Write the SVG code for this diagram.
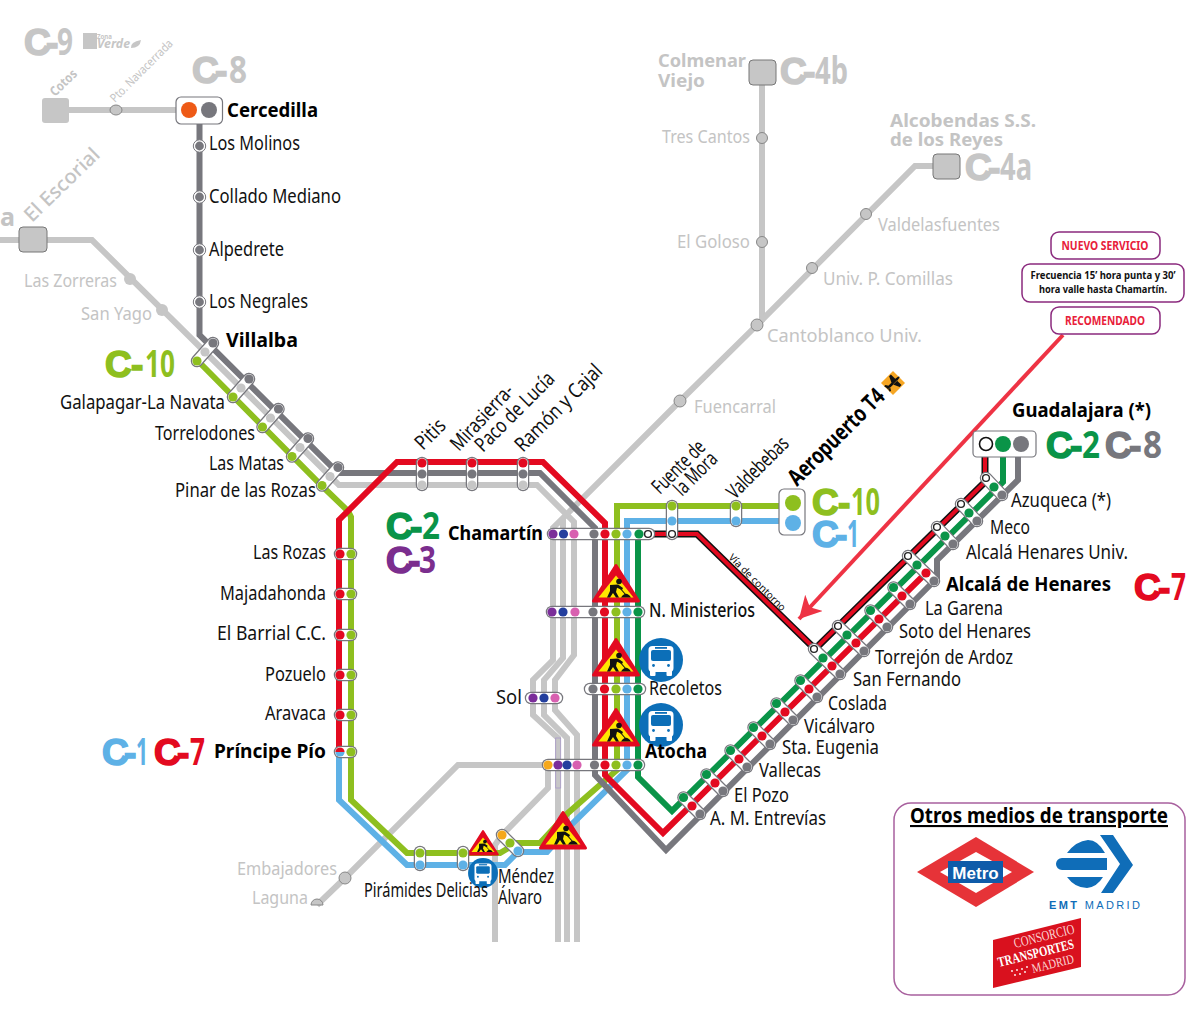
<svg xmlns="http://www.w3.org/2000/svg" width="1200" height="1017" viewBox="0 0 1200 1017">
<style>
text{font-family:"Noto Sans","DejaVu Sans",sans-serif}
.t{font-size:19px;fill:#111}
.r{font-size:20.5px;fill:#111}
.b{font-weight:700;font-size:19.5px;fill:#000}
.f{font-size:18.5px;fill:#c4c4c4}
.fb{font-size:18.5px;font-weight:700;fill:#c4c4c4}
.l{fill:none;stroke-width:6;stroke-linejoin:miter}
.lg{stroke:#c6c6c6}.dg{stroke:#77777d}.rd{stroke:#e30a20}.gr{stroke:#8ebf1f}.bl{stroke:#5eb1e6}.dk{stroke:#0a9448}
.co{stroke:#77777d;stroke-width:12.5;stroke-linecap:round}
.ci{stroke:#fff;stroke-width:10;stroke-linecap:round}
.c-lg{fill:#c6c6c6}.c-dg{fill:#77777d}.c-rd{fill:#e30a20}.c-gr{fill:#8ebf1f}.c-bl{fill:#5eb1e6}.c-dk{fill:#0a9448}.c-pu{fill:#7b2e9a}.c-nv{fill:#243f9e}.c-pk{fill:#d860b0}.c-or{fill:#f5a81c}
.c-wh{fill:#fff;stroke:#222;stroke-width:1.4}
.n{fill:#c6c6c6;stroke:#888;stroke-width:1}
.bx{fill:#fff;stroke:#77777d;stroke-width:1.2}
.badge{font-size:37px}
.cc{font-family:"Liberation Sans",sans-serif;font-weight:700;stroke-width:1.6}
.dd{font-family:"Liberation Sans",sans-serif;font-weight:700;stroke-width:1.6}
.nn{font-size:38px;font-weight:700}
.call{fill:#fff;stroke:#8b2a7e;stroke-width:1.5}
.cr{font-size:11.5px;font-weight:700;fill:#e8203a;text-anchor:middle}
.ck{font-size:10.5px;font-weight:700;fill:#111;text-anchor:middle}
</style>
<defs>
<marker id="arrow" markerUnits="userSpaceOnUse" markerWidth="26" markerHeight="26" refX="22" refY="12" orient="auto">
<path d="M22,12 L0,0 L6,12 L0,24 Z" fill="#ee3344"/>
</marker>
<g id="d3"><line class="co" x1="-8.5" y1="-8.5" x2="8" y2="8"/><line class="ci" x1="-8.5" y1="-8.5" x2="8" y2="8"/><circle class="c-dk" cx="-8.5" cy="-8.5" r="4.6"/><circle class="c-rd" r="4.6"/><circle class="c-dg" cx="8" cy="8" r="4.6"/></g>
<g id="d4"><line class="co" x1="-18" y1="-17" x2="8" y2="8"/><line class="ci" x1="-18" y1="-17" x2="8" y2="8"/><circle class="c-wh" cx="-18" cy="-17" r="3.4"/><circle class="c-dk" cx="-9" cy="-8" r="4.6"/><circle class="c-rd" r="4.6"/><circle class="c-dg" cx="8" cy="8" r="4.6"/></g>
<g id="d3w"><line class="co" x1="-8" y1="-9" x2="8" y2="8"/><line class="ci" x1="-8" y1="-9" x2="8" y2="8"/><circle class="c-wh" cx="-8" cy="-9" r="3.4"/><circle class="c-dk" r="4.6"/><circle class="c-dg" cx="8" cy="8" r="4.6"/></g>
<g id="d3g"><line class="co" x1="8" y1="-9" x2="-8" y2="9"/><line class="ci" x1="8" y1="-9" x2="-8" y2="9"/><circle class="c-dg" cx="8" cy="-9" r="4.6"/><circle class="c-lg" r="4.6"/><circle class="c-gr" cx="-8" cy="9" r="4.6"/></g>
<g id="v3"><line class="co" x1="0" y1="-11" x2="0" y2="11"/><line class="ci" x1="0" y1="-11" x2="0" y2="11"/><circle class="c-rd" cy="-11" r="4.6"/><circle class="c-dg" r="4.6"/><circle class="c-lg" cy="11" r="4.6"/></g>
<g id="hs"><line class="co" x1="0" y1="0" x2="11" y2="0"/><line class="ci" x1="0" y1="0" x2="11" y2="0"/><circle class="c-rd" r="4.6"/><circle class="c-gr" cx="11" r="4.6"/></g>
<g id="vc"><circle r="6.2" fill="#fff" stroke="#77777d" stroke-width="1"/><circle r="4.4" class="c-dg"/></g>
<g id="sign">
<polygon points="0,1.500 22.500,37 -22.500,37" fill="#e30a20" stroke="#e30a20" stroke-width="3" stroke-linejoin="round"/>
<polygon points="0,11.500 17.500,33.500 -17.500,33.500" fill="#ffe600"/>
<circle cx="3" cy="17.500" r="2.800" fill="#111"/>
<path d="M-6,21 L2,20.500 L7,24 L6,26 L1,23.800 L0,28 L3,33.500 L0,33.500 L-3,29 L-6,33.500 L-9,33.500 L-6,27Z" fill="#111"/>
<path d="M3,23 L10,31" stroke="#111" stroke-width="1.100"/>
<path d="M5,33.500 Q10,26 15,33.500Z" fill="#111"/>
</g>
<g id="bus">
<circle r="22" fill="#0c6fb8"/>
<rect x="-12.500" y="-14" width="25" height="26" rx="4" fill="#fff"/>
<rect x="-11" y="10" width="5.500" height="6" rx="1" fill="#fff"/><rect x="5.500" y="10" width="5.500" height="6" rx="1" fill="#fff"/>
<rect x="-10" y="-10" width="20" height="11" rx="2" fill="#0c6fb8"/>
<rect x="-6" y="-13" width="12" height="1.800" fill="#0c6fb8"/>
<circle cx="-7.500" cy="5.500" r="1.400" fill="#0c6fb8"/><circle cx="7.500" cy="5.500" r="1.400" fill="#0c6fb8"/>
</g>
</defs>
<rect width="1200" height="1017" fill="#fff"/>

<g id="connectors">
<path class="l lg" d="M69,110H176"/>
<path class="l lg" d="M0,240H92L205,352L330,476L339,485H537L574,522V655L555,680V710L577,735V942"/>
<path class="l lg" d="M762,85V320L757,325L680,401L563,518L553,528V660L533,680V715L558,738V942"/>
<path class="l lg" d="M563,518V658L544,680V715L567,738V942"/>
<path class="l lg" d="M933,166H915L757,325"/>
<path class="l lg" d="M317,905L345,878L458,765H548V788L502,835L495,845V942"/>
<rect x="555.700" y="738" width="5" height="50" fill="none" stroke="#a99ac9" stroke-width="0.800"/>
<path class="l gr" d="M197,360L321,485L348,511L351,517V800L407,853H500L517,843H540L568,813L617,770V506H780"/>
<path class="l bl" d="M339,752V800L407,865H505L518,852H547L573,823L627,770V521H780"/>
<path class="l dg" d="M199.500,124V335L338,473H540L595,528V775L666,850L937,578V560L1018,480V457"/>
<path class="l rd" d="M339,752V520L397,462H543L605,523V775L663,833L926,573"/>
<path class="l dk" d="M638,534V777L672,811L1003,482V457"/>
<path fill="none" stroke="#111" stroke-width="7" d="M648,534H697L815,649L985,482V457"/>
<path fill="none" stroke="#e30a20" stroke-width="4" d="M648,534H697L815,649L985,482V457"/>
<line x1="1063" y1="335" x2="799" y2="619" stroke="#ee3344" stroke-width="4" marker-end="url(#arrow)"/>
<path d="M311,905a6,6 0 0 1 12,0z" class="n"/>
</g>

<g id="line-labels">
<text class="badge" y="55" fill="#c6c6c6" stroke="#c6c6c6" stroke-width="0"><tspan class="cc" x="24">C</tspan><tspan class="dd" x="46">-</tspan><tspan class="nn" x="57" textLength="16" lengthAdjust="spacingAndGlyphs">9</tspan></text>
<text class="badge" y="83" fill="#c6c6c6" stroke="#c6c6c6" stroke-width="0"><tspan class="cc" x="192">C</tspan><tspan class="dd" x="215">-</tspan><tspan class="nn" x="229" textLength="18" lengthAdjust="spacingAndGlyphs">8</tspan></text>
<text class="badge" y="84" fill="#c6c6c6" stroke="#c6c6c6" stroke-width="0"><tspan class="cc" x="780">C</tspan><tspan class="dd" x="803">-</tspan><tspan class="nn" x="815" textLength="33" lengthAdjust="spacingAndGlyphs">4b</tspan></text>
<text class="badge" y="180" fill="#c6c6c6" stroke="#c6c6c6" stroke-width="0"><tspan class="cc" x="965">C</tspan><tspan class="dd" x="988">-</tspan><tspan class="nn" x="1000" textLength="32" lengthAdjust="spacingAndGlyphs">4a</tspan></text>
<text class="badge" y="377" fill="#8ebf1f" stroke="#8ebf1f" stroke-width="0"><tspan class="cc" x="105">C</tspan><tspan class="dd" x="131">-</tspan><tspan class="nn" x="145" textLength="30" lengthAdjust="spacingAndGlyphs">10</tspan></text>
<text class="badge" y="539" fill="#0a9448" stroke="#0a9448" stroke-width="0"><tspan class="cc" x="386">C</tspan><tspan class="dd" x="410">-</tspan><tspan class="nn" x="422" textLength="18" lengthAdjust="spacingAndGlyphs">2</tspan></text>
<text class="badge" y="573" fill="#7b2e8e" stroke="#7b2e8e" stroke-width="0"><tspan class="cc" x="386">C</tspan><tspan class="dd" x="408">-</tspan><tspan class="nn" x="419" textLength="17" lengthAdjust="spacingAndGlyphs">3</tspan></text>
<text class="badge" y="515" fill="#8ebf1f" stroke="#8ebf1f" stroke-width="0"><tspan class="cc" x="812">C</tspan><tspan class="dd" x="838">-</tspan><tspan class="nn" x="851" textLength="29" lengthAdjust="spacingAndGlyphs">10</tspan></text>
<text class="badge" y="547" fill="#5eb1e6" stroke="#5eb1e6" stroke-width="0"><tspan class="cc" x="812">C</tspan><tspan class="dd" x="835">-</tspan><tspan class="nn" x="847" textLength="12" lengthAdjust="spacingAndGlyphs">1</tspan></text>
<text class="badge" y="765" fill="#5eb1e6" stroke="#5eb1e6" stroke-width="0"><tspan class="cc" x="102">C</tspan><tspan class="dd" x="124">-</tspan><tspan class="nn" x="136" textLength="12" lengthAdjust="spacingAndGlyphs">1</tspan></text>
<text class="badge" y="765" fill="#e30a20" stroke="#e30a20" stroke-width="0"><tspan class="cc" x="154">C</tspan><tspan class="dd" x="177">-</tspan><tspan class="nn" x="190" textLength="15" lengthAdjust="spacingAndGlyphs">7</tspan></text>
<text class="badge" y="600" fill="#e30a20" stroke="#e30a20" stroke-width="0"><tspan class="cc" x="1134">C</tspan><tspan class="dd" x="1158">-</tspan><tspan class="nn" x="1171" textLength="15" lengthAdjust="spacingAndGlyphs">7</tspan></text>
<text class="badge" y="458" fill="#0a9448" stroke="#0a9448" stroke-width="0"><tspan class="cc" x="1046">C</tspan><tspan class="dd" x="1070">-</tspan><tspan class="nn" x="1082" textLength="18" lengthAdjust="spacingAndGlyphs">2</tspan></text>
<text class="badge" y="458" fill="#77777d" stroke="#77777d" stroke-width="0"><tspan class="cc" x="1105">C</tspan><tspan class="dd" x="1129">-</tspan><tspan class="nn" x="1143" textLength="19" lengthAdjust="spacingAndGlyphs">8</tspan></text>
</g>

<g id="zona-verde">
<rect x="83" y="33" width="14" height="16" fill="#c6c6c6"/>
<text x="97" y="39" font-size="7" font-weight="700" fill="#c6c6c6" textLength="15" lengthAdjust="spacingAndGlyphs">Zona</text>
<text x="97" y="48" font-size="13" font-weight="700" font-style="italic" fill="#c6c6c6" textLength="33" lengthAdjust="spacingAndGlyphs">Verde</text>
<path d="M131,48Q130,42 141,40Q140,48 131,48Z" fill="#c6c6c6"/>
</g>

<g id="st-cotos"><rect x="42" y="98" width="27" height="25" rx="3" fill="#c6c6c6"/><text class="fb" style="font-size:13px" transform="translate(55,97) rotate(-44)" textLength="32" lengthAdjust="spacingAndGlyphs">Cotos</text></g>
<g id="st-navacerrada"><ellipse class="n" cx="116" cy="110" rx="6" ry="5"/><text class="f" style="font-size:12px" transform="translate(115,103) rotate(-45)" textLength="83" lengthAdjust="spacingAndGlyphs">Pto. Navacerrada</text></g>
<g id="st-cercedilla"><rect class="bx" x="176" y="97" width="46.500" height="27" rx="5"/><circle cx="189" cy="110" r="8" fill="#ee5a16"/><circle cx="209" cy="110" r="8" class="c-dg"/><text class="b" x="227" y="117" textLength="91" lengthAdjust="spacingAndGlyphs">Cercedilla</text></g>
<g id="st-los-molinos"><use href="#vc" x="199.500" y="146"/><text class="t" x="209" y="150" textLength="91" lengthAdjust="spacingAndGlyphs">Los Molinos</text></g>
<g id="st-collado"><use href="#vc" x="199.500" y="197"/><text class="t" x="209" y="203" textLength="132" lengthAdjust="spacingAndGlyphs">Collado Mediano</text></g>
<g id="st-alpedrete"><use href="#vc" x="199.500" y="250"/><text class="t" x="209" y="256" textLength="75" lengthAdjust="spacingAndGlyphs">Alpedrete</text></g>
<g id="st-negrales"><use href="#vc" x="199.500" y="302"/><text class="t" x="209" y="308" textLength="99" lengthAdjust="spacingAndGlyphs">Los Negrales</text></g>

<g id="st-el-escorial"><rect x="19" y="227" width="28" height="25" rx="4" fill="#c6c6c6" stroke="#777" stroke-width="1"/><text class="fb" style="font-size:25px" x="0" y="226" textLength="15" lengthAdjust="spacingAndGlyphs">a</text><text class="f" style="font-size:20px;font-weight:500" transform="translate(32,223) rotate(-44)" textLength="96" lengthAdjust="spacingAndGlyphs">El Escorial</text></g>
<g id="st-zorreras"><circle cx="130" cy="279" r="6" fill="#c6c6c6"/><text class="f" x="24" y="287" textLength="93" lengthAdjust="spacingAndGlyphs">Las Zorreras</text></g>
<g id="st-san-yago"><circle cx="162" cy="310" r="6" fill="#c6c6c6"/><text class="f" x="81" y="320" textLength="71" lengthAdjust="spacingAndGlyphs">San Yago</text></g>

<g id="st-villalba"><use href="#d3g" x="205" y="352"/><text class="b" x="226" y="347" textLength="72" lengthAdjust="spacingAndGlyphs">Villalba</text></g>
<g id="st-galapagar"><use href="#d3g" x="241" y="388"/><text class="t" x="60" y="409" textLength="165" lengthAdjust="spacingAndGlyphs">Galapagar-La Navata</text></g>
<g id="st-torrelodones"><use href="#d3g" x="270.500" y="418"/><text class="t" x="155" y="440" textLength="100" lengthAdjust="spacingAndGlyphs">Torrelodones</text></g>
<g id="st-las-matas"><use href="#d3g" x="300" y="447.500"/><text class="t" x="209" y="470" textLength="75" lengthAdjust="spacingAndGlyphs">Las Matas</text></g>
<g id="st-pinar"><use href="#d3g" x="330" y="476.500"/><text class="t" x="175" y="497" textLength="141" lengthAdjust="spacingAndGlyphs">Pinar de las Rozas</text></g>

<g id="st-las-rozas"><use href="#hs" x="340" y="554"/><text class="t" x="253" y="559" textLength="73" lengthAdjust="spacingAndGlyphs">Las Rozas</text></g>
<g id="st-majadahonda"><use href="#hs" x="340" y="594"/><text class="t" x="220" y="600" textLength="106" lengthAdjust="spacingAndGlyphs">Majadahonda</text></g>
<g id="st-barrial"><use href="#hs" x="340" y="635"/><text class="t" x="217" y="640" textLength="109" lengthAdjust="spacingAndGlyphs">El Barrial C.C.</text></g>
<g id="st-pozuelo"><use href="#hs" x="340" y="675"/><text class="t" x="265" y="681" textLength="61" lengthAdjust="spacingAndGlyphs">Pozuelo</text></g>
<g id="st-aravaca"><use href="#hs" x="340" y="715"/><text class="t" x="265" y="720" textLength="61" lengthAdjust="spacingAndGlyphs">Aravaca</text></g>
<g id="st-principe-pio"><line class="co" x1="340" y1="752" x2="351" y2="752"/><line class="ci" x1="340" y1="752" x2="351" y2="752"/><path d="M335.400,752a4.600,4.600 0 0 1 9.200,0z" class="c-rd"/><path d="M335.400,752a4.600,4.600 0 0 0 9.200,0z" class="c-bl"/><circle cx="351" cy="752" r="4.600" class="c-gr"/><text class="b" x="214" y="758" textLength="112" lengthAdjust="spacingAndGlyphs">Príncipe Pío</text></g>

<g id="st-pitis"><use href="#v3" x="422" y="474"/><text class="r" transform="translate(423,451) rotate(-45)" textLength="34" lengthAdjust="spacingAndGlyphs">Pitis</text></g>
<g id="st-mirasierra"><use href="#v3" x="472" y="474"/><text class="r" transform="translate(459,452) rotate(-47)" textLength="82" lengthAdjust="spacingAndGlyphs">Mirasierra-</text><text class="r" transform="translate(483,453) rotate(-45)" textLength="103" lengthAdjust="spacingAndGlyphs">Paco de Lucía</text></g>
<g id="st-ramon"><use href="#v3" x="523" y="474"/><text class="r" transform="translate(523,453) rotate(-45)" textLength="114" lengthAdjust="spacingAndGlyphs">Ramón y Cajal</text></g>

<g id="st-chamartin"><line class="co" x1="553" y1="534" x2="649" y2="534"/><line class="ci" x1="553" y1="534" x2="649" y2="534"/>
<circle class="c-pu" cx="553" cy="534" r="4.600"/><circle class="c-nv" cx="563.500" cy="534" r="4.600"/><circle class="c-pk" cx="574" cy="534" r="4.600"/><circle class="c-dg" cx="594" cy="534" r="4.600"/><circle class="c-rd" cx="605" cy="534" r="4.600"/><circle class="c-gr" cx="616" cy="534" r="4.600"/><circle class="c-bl" cx="627" cy="534" r="4.600"/><circle class="c-dk" cx="639" cy="534" r="4.600"/><circle class="c-wh" cx="648" cy="534" r="3.400"/>
<text class="b" x="448" y="540" textLength="95" lengthAdjust="spacingAndGlyphs">Chamartín</text></g>
<g id="st-nuevos-ministerios"><line class="co" x1="552" y1="612" x2="639" y2="612"/><line class="ci" x1="552" y1="612" x2="639" y2="612"/>
<circle class="c-pu" cx="552" cy="612" r="4.600"/><circle class="c-nv" cx="563" cy="612" r="4.600"/><circle class="c-pk" cx="575" cy="612" r="4.600"/><circle class="c-dg" cx="593" cy="612" r="4.600"/><circle class="c-rd" cx="604.500" cy="612" r="4.600"/><circle class="c-gr" cx="616" cy="612" r="4.600"/><circle class="c-bl" cx="627" cy="612" r="4.600"/><circle class="c-dk" cx="638" cy="612" r="4.600"/>
<text class="t" style="font-weight:500" x="649" y="617" textLength="106" lengthAdjust="spacingAndGlyphs">N. Ministerios</text></g>
<g id="st-recoletos"><line class="co" x1="590" y1="689" x2="640" y2="689"/><line class="ci" x1="590" y1="689" x2="640" y2="689"/>
<circle class="c-dg" cx="593" cy="689" r="4.600"/><circle class="c-rd" cx="604.500" cy="689" r="4.600"/><circle class="c-gr" cx="616" cy="689" r="4.600"/><circle class="c-bl" cx="627" cy="689" r="4.600"/><circle class="c-dk" cx="638" cy="689" r="4.600"/>
<text class="t" x="649" y="695" textLength="73" lengthAdjust="spacingAndGlyphs">Recoletos</text></g>
<g id="st-sol"><line class="co" x1="531" y1="698" x2="557" y2="698"/><line class="ci" x1="531" y1="698" x2="557" y2="698"/>
<circle class="c-pu" cx="533" cy="698" r="4.600"/><circle class="c-nv" cx="544" cy="698" r="4.600"/><circle class="c-pk" cx="555" cy="698" r="4.600"/>
<text class="t" x="496" y="704" textLength="26" lengthAdjust="spacingAndGlyphs">Sol</text></g>
<g id="st-atocha"><line class="co" x1="548" y1="765" x2="639" y2="765"/><line class="ci" x1="548" y1="765" x2="639" y2="765"/>
<circle class="c-or" cx="548" cy="765" r="4.600"/><circle class="c-pu" cx="558" cy="765" r="4.600"/><circle class="c-nv" cx="567" cy="765" r="4.600"/><circle class="c-pk" cx="577" cy="765" r="4.600"/><circle class="c-dg" cx="594.500" cy="765" r="4.600"/><circle class="c-rd" cx="605" cy="765" r="4.600"/><circle class="c-gr" cx="616" cy="765" r="4.600"/><circle class="c-bl" cx="627" cy="765" r="4.600"/><circle class="c-dk" cx="638" cy="765" r="4.600"/>
</g>

<g id="works-signs">
<use href="#sign" x="616" y="564"/>
<use href="#sign" x="616" y="638"/>
<use href="#sign" x="616" y="708"/>
<use href="#sign" x="563" y="811"/>
<use href="#sign" transform="translate(483,830) scale(0.66)"/>
</g>
<g id="bus-icons">
<use href="#bus" x="661" y="660"/>
<use href="#bus" x="661" y="725"/>
<use href="#bus" transform="translate(483,873) scale(0.68)"/>
</g>
<text class="b" x="645" y="758" textLength="62" lengthAdjust="spacingAndGlyphs">Atocha</text>

<g id="st-piramides"><line class="co" x1="420" y1="852" x2="420" y2="865"/><line class="ci" x1="420" y1="852" x2="420" y2="865"/><circle class="c-gr" cx="420" cy="853" r="4.600"/><circle class="c-bl" cx="420" cy="865" r="4.600"/></g>
<g id="st-delicias"><line class="co" x1="463" y1="852" x2="463" y2="865"/><line class="ci" x1="463" y1="852" x2="463" y2="865"/><circle class="c-gr" cx="463" cy="853" r="4.600"/><circle class="c-bl" cx="463" cy="865" r="4.600"/></g>
<text class="t" x="364" y="897" textLength="124" lengthAdjust="spacingAndGlyphs">Pirámides Delicias</text>
<g id="st-mendez-alvaro"><line class="co" x1="502" y1="835" x2="518" y2="851"/><line class="ci" x1="502" y1="835" x2="518" y2="851"/><circle class="c-or" cx="502" cy="835" r="4.600"/><circle class="c-gr" cx="510" cy="843" r="4.600"/><circle class="c-bl" cx="518" cy="851" r="4.600"/>
<text class="t" x="498" y="883" textLength="56" lengthAdjust="spacingAndGlyphs">Méndez</text><text class="t" x="498" y="904" textLength="44" lengthAdjust="spacingAndGlyphs">Álvaro</text></g>
<g id="st-embajadores"><circle class="n" cx="345" cy="878" r="6"/><text class="f" x="237" y="875" textLength="100" lengthAdjust="spacingAndGlyphs">Embajadores</text></g>
<g id="st-laguna"><text class="f" x="252" y="904" textLength="56" lengthAdjust="spacingAndGlyphs">Laguna</text></g>

<g id="st-colmenar"><rect x="749" y="60" width="27" height="25" rx="4" fill="#c6c6c6" stroke="#777" stroke-width="1"/><text class="fb" x="658" y="67" textLength="88" lengthAdjust="spacingAndGlyphs">Colmenar</text><text class="fb" x="658" y="87" textLength="47" lengthAdjust="spacingAndGlyphs">Viejo</text></g>
<g id="st-tres-cantos"><circle class="n" cx="762" cy="138" r="5.500"/><text class="f" x="662" y="143" textLength="88" lengthAdjust="spacingAndGlyphs">Tres Cantos</text></g>
<g id="st-goloso"><circle class="n" cx="762" cy="242" r="5.500"/><text class="f" x="677" y="248" textLength="73" lengthAdjust="spacingAndGlyphs">El Goloso</text></g>
<g id="st-alcobendas"><rect x="933" y="154" width="27" height="25" rx="4" fill="#c6c6c6" stroke="#777" stroke-width="1"/><text class="fb" x="890" y="127" textLength="146" lengthAdjust="spacingAndGlyphs">Alcobendas S.S.</text><text class="fb" x="890" y="146" textLength="113" lengthAdjust="spacingAndGlyphs">de los Reyes</text></g>
<g id="st-valdelasfuentes"><circle class="n" cx="866" cy="214" r="5.500"/><text class="f" x="878" y="231" textLength="122" lengthAdjust="spacingAndGlyphs">Valdelasfuentes</text></g>
<g id="st-comillas"><circle class="n" cx="812" cy="268" r="5.500"/><text class="f" x="823" y="285" textLength="130" lengthAdjust="spacingAndGlyphs">Univ. P. Comillas</text></g>
<g id="st-cantoblanco"><circle class="n" cx="757" cy="325" r="6"/><text class="f" x="767" y="342" textLength="155" lengthAdjust="spacingAndGlyphs">Cantoblanco Univ.</text></g>
<g id="st-fuencarral"><circle class="n" cx="680" cy="401" r="6"/><text class="f" x="694" y="413" textLength="82" lengthAdjust="spacingAndGlyphs">Fuencarral</text></g>

<g id="st-fuente-mora"><line class="co" x1="672" y1="506" x2="672" y2="534"/><line class="ci" x1="672" y1="506" x2="672" y2="534"/><circle class="c-gr" cx="672" cy="506" r="4.600"/><circle class="c-bl" cx="672" cy="521" r="4.600"/><circle class="c-wh" cx="672" cy="534" r="3.400"/><text class="r" transform="translate(660,495) rotate(-45)" textLength="66" lengthAdjust="spacingAndGlyphs">Fuente de</text><text class="r" transform="translate(682,497) rotate(-45)" textLength="52" lengthAdjust="spacingAndGlyphs">la Mora</text></g>
<g id="st-valdebebas"><line class="co" x1="736" y1="506" x2="736" y2="521"/><line class="ci" x1="736" y1="506" x2="736" y2="521"/><circle class="c-gr" cx="736" cy="506" r="4.600"/><circle class="c-bl" cx="736" cy="521" r="4.600"/><text class="r" transform="translate(735,500) rotate(-45)" textLength="78" lengthAdjust="spacingAndGlyphs">Valdebebas</text></g>
<g id="st-aeropuerto"><rect class="bx" x="779" y="489" width="26" height="46" rx="5"/><circle class="c-gr" cx="793" cy="503" r="8"/><circle class="c-bl" cx="793" cy="523" r="8"/>
<text class="b" style="font-size:23px" transform="translate(797,487) rotate(-45)" textLength="126" lengthAdjust="spacingAndGlyphs">Aeropuerto T4</text>
<g transform="translate(893,383) rotate(-45)"><rect x="-8.500" y="-8.500" width="17" height="17" fill="#f6a623"/>
<path d="M-8,-1.300H5Q9,-1 9,0Q9,1 5,1.300H-8Z M-1,-1L2,-7.500H4.500L4.500,-1Z M-1,1L2,7.500H4.500L4.500,1Z M-8,-1L-8.500,-4H-6.800L-5,-1Z M-8,1L-8.500,4H-6.800L-5,1Z" fill="#111"/></g></g>
<text transform="translate(728,558) rotate(45)" font-size="10" fill="#111" textLength="76" lengthAdjust="spacingAndGlyphs">Vía de contorno</text>

<g id="st-guadalajara"><rect class="bx" x="973" y="431" width="63" height="26" rx="4"/><circle cx="986" cy="444" r="6.500" fill="#fff" stroke="#111" stroke-width="1.600"/><circle class="c-dk" cx="1003" cy="444" r="8"/><circle class="c-dg" cx="1021" cy="444" r="8"/><text class="b" x="1012" y="417" textLength="139" lengthAdjust="spacingAndGlyphs">Guadalajara (*)</text></g>
<g id="st-azuqueca"><use href="#d3w" x="994" y="487"/><text class="t" x="1011" y="507" textLength="100" lengthAdjust="spacingAndGlyphs">Azuqueca (*)</text></g>
<g id="st-meco"><use href="#d3w" x="969" y="513"/><text class="t" x="990" y="534" textLength="40" lengthAdjust="spacingAndGlyphs">Meco</text></g>
<g id="st-alcala-univ"><use href="#d3w" x="945" y="536"/><text class="t" x="966" y="559" textLength="162" lengthAdjust="spacingAndGlyphs">Alcalá Henares Univ.</text></g>
<g id="st-alcala"><use href="#d4" x="926" y="573"/><text class="b" x="946" y="591" textLength="165" lengthAdjust="spacingAndGlyphs">Alcalá de Henares</text></g>
<g id="st-garena"><use href="#d3" x="902" y="596"/><text class="t" x="925" y="615" textLength="78" lengthAdjust="spacingAndGlyphs">La Garena</text></g>
<g id="st-soto"><use href="#d3" x="879" y="619"/><text class="t" x="899" y="638" textLength="132" lengthAdjust="spacingAndGlyphs">Soto del Henares</text></g>
<g id="st-torrejon"><use href="#d4" x="856" y="643"/><text class="t" x="875" y="664" textLength="138" lengthAdjust="spacingAndGlyphs">Torrejón de Ardoz</text></g>
<g id="st-san-fernando"><use href="#d4" x="832" y="666"/><text class="t" x="853" y="686" textLength="108" lengthAdjust="spacingAndGlyphs">San Fernando</text></g>
<g id="st-coslada"><use href="#d3" x="809" y="689"/><text class="t" x="828" y="710" textLength="59" lengthAdjust="spacingAndGlyphs">Coslada</text></g>
<g id="st-vicalvaro"><use href="#d3" x="785" y="712"/><text class="t" x="804" y="733" textLength="71" lengthAdjust="spacingAndGlyphs">Vicálvaro</text></g>
<g id="st-sta-eugenia"><use href="#d3" x="762" y="736"/><text class="t" x="782" y="754" textLength="97" lengthAdjust="spacingAndGlyphs">Sta. Eugenia</text></g>
<g id="st-vallecas"><use href="#d3" x="739" y="759"/><text class="t" x="759" y="777" textLength="62" lengthAdjust="spacingAndGlyphs">Vallecas</text></g>
<g id="st-el-pozo"><use href="#d3" x="715" y="783"/><text class="t" x="734" y="802" textLength="55" lengthAdjust="spacingAndGlyphs">El Pozo</text></g>
<g id="st-entrevias"><use href="#d3" x="692" y="806"/><text class="t" x="710" y="825" textLength="116" lengthAdjust="spacingAndGlyphs">A. M. Entrevías</text></g>

<g id="callouts">
<rect class="call" x="1051" y="232" width="109" height="27" rx="8"/><text class="cr" x="1105" y="250" textLength="87" lengthAdjust="spacingAndGlyphs">NUEVO SERVICIO</text>
<rect class="call" x="1022" y="264" width="162" height="38" rx="8"/><text class="ck" x="1103" y="279" textLength="145" lengthAdjust="spacingAndGlyphs">Frecuencia 15’ hora punta y 30’</text><text class="ck" x="1103" y="293" textLength="128" lengthAdjust="spacingAndGlyphs">hora valle hasta Chamartín.</text>
<rect class="call" x="1051" y="307" width="109" height="27" rx="8"/><text class="cr" x="1105" y="325" textLength="80" lengthAdjust="spacingAndGlyphs">RECOMENDADO</text>
</g>

<g id="legend">
<rect x="894" y="803" width="291" height="192" rx="17" fill="#fff" stroke="#a8609e" stroke-width="1.500"/>
<text x="910" y="823" font-size="21" font-weight="700" fill="#000" text-decoration="underline" textLength="258" lengthAdjust="spacingAndGlyphs">Otros medios de transporte</text>
<polygon points="917,872 976,837 1034,872 976,907" fill="#e63338"/>
<polygon points="940,872 976,852 1012,872 976,893" fill="#fff"/>
<rect x="948" y="861" width="55" height="22" fill="#0f5ba9"/>
<text x="975.500" y="878.500" font-size="17" font-weight="700" fill="#fff" text-anchor="middle" style="font-family:'Liberation Sans',sans-serif">Metro</text>
<path d="M1067,853Q1076,841 1088,840Q1098,840 1105,853Z M1062,858H1107V870H1062A6,6 0 0 1 1062,858Z M1067,877H1103Q1097,887 1087,888Q1075,888 1067,877Z M1100,835H1113L1133,865L1113,893H1101L1120,864Z" fill="#0f6db8"/>
<text x="1049" y="909" font-size="11" fill="#0f6db8" textLength="91" style="font-family:'Liberation Sans',sans-serif"><tspan font-weight="700">EMT</tspan> MADRID</text>
<polygon points="993,940 1081,918 1081,967 993,988" fill="#d9111e"/>
<text transform="translate(1015,948) rotate(-14)" font-size="14" fill="#fbd5d5" textLength="62" lengthAdjust="spacingAndGlyphs" style="font-family:'Liberation Serif',serif">CONSORCIO</text>
<text transform="translate(999,967) rotate(-14)" font-size="14" font-weight="700" fill="#fff" textLength="78" lengthAdjust="spacingAndGlyphs" style="font-family:'Liberation Serif',serif">TRANSPORTES</text>
<text transform="translate(1033,973) rotate(-14)" font-size="13" fill="#fbd5d5" textLength="43" lengthAdjust="spacingAndGlyphs" style="font-family:'Liberation Serif',serif">MADRID</text>
<g fill="#fff"><circle cx="1012" cy="971" r="0.900"/><circle cx="1017" cy="970" r="0.900"/><circle cx="1022" cy="969" r="0.900"/><circle cx="1027" cy="967" r="0.900"/><circle cx="1015" cy="975" r="0.900"/><circle cx="1020" cy="974" r="0.900"/><circle cx="1025" cy="972" r="0.900"/></g>
</g>
</svg>
